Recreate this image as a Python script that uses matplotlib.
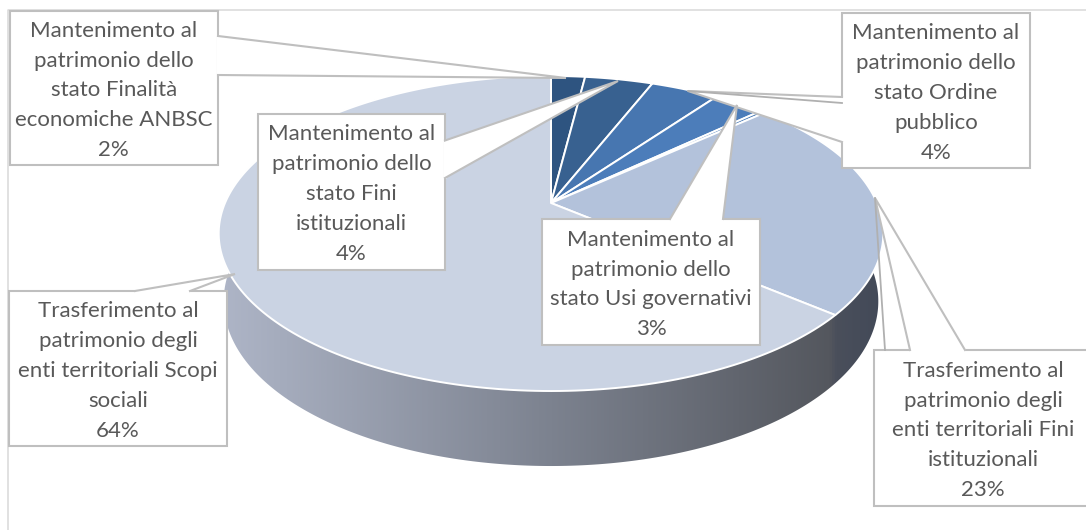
import numpy as np
import matplotlib
matplotlib.use("Agg")
import matplotlib.pyplot as plt
from matplotlib.colors import LinearSegmentedColormap
from matplotlib.patches import Polygon, Rectangle

plt.rcParams['font.family'] = ['Lato', 'DejaVu Sans']

# slice shares, clockwise from 12 o'clock
shares = [2, 4, 4, 3, 0.3, 23, 64]
slice_colors = ['#2E5480', '#386190', '#4776B0', '#4C7DBA', '#4A7AB5', '#B3C2DB', '#CAD3E3']

labels = [
    "Mantenimento al\npatrimonio dello\nstato Finalità\neconomiche ANBSC\n2%",
    "Mantenimento al\npatrimonio dello\nstato Fini\nistituzionali\n4%",
    "Mantenimento al\npatrimonio dello\nstato Ordine\npubblico\n4%",
    "Mantenimento al\npatrimonio dello\nstato Usi governativi\n3%",
    "Trasferimento al\npatrimonio degli\nenti territoriali Fini\nistituzionali\n23%",
    "Trasferimento al\npatrimonio degli\nenti territoriali Scopi\nsociali\n64%",
]

# label boxes: left, top, right, bottom in pixels
boxes = [
    (9.5, 11, 218, 165),
    (258, 114, 445, 269.5),
    (842, 13, 1029.5, 168),
    (542, 219, 760, 345),
    (874, 350, 1090, 506),
    (9, 290.5, 227, 446),
]

# callout wedges: start on box edge, tip, end on box edge
callouts = [
    [(218, 36), (566, 78), (218, 75)],
    [(445, 140.5), (618, 81), (445, 178)],
    [(842, 97), (688, 91), (842, 142)],
    [(670, 219), (737, 105), (723, 219)],
    [(910, 350), (875, 198), (965, 350)],
    [(135, 291), (235, 274), (190, 291)],
]
extra_leaders = [
    [(842, 103), (688, 91)],
    [(885, 350), (875, 198)],
]

# pie projection
cx, cy = 551, 203
a, b, k = 326, 151.6, 0.1937
grey = '#BFBFBF'


def project(theta):
    u = np.sin(theta)
    v = -np.cos(theta)
    w = 1 - k * v
    return cx + a * u / w, cy + b * v / w


def project_bottom(theta):
    x, y = project(theta)
    v = -np.cos(theta)
    return cx + (x - cx) * 0.985, y + 66 + 9 * v


fig = plt.figure(figsize=(10.86, 5.30), dpi=100)
ax = fig.add_axes([0, 0, 1, 1])
ax.set_xlim(0, 1086)
ax.set_ylim(530, 0)
ax.axis('off')

# chart frame
ax.plot([8, 8, 1086], [530, 10, 10], color='#D9D9D9', lw=1.1, zorder=1)

edges = np.cumsum([0] + shares) / sum(shares) * 2 * np.pi
split = edges[5]

# side wall, shaded left to right
side_map = LinearSegmentedColormap.from_list(
    'side', [(0, '#AEB5C7'), (0.5, '#7C828F'), (0.92, '#54575E'), (0.93, '#4A4F5B'), (1, '#424958')])
t = np.linspace(2 * np.pi * 0.2, 2 * np.pi * 0.83, 400)
tx, ty = project(t)
bx, by = project_bottom(t)
outline = np.column_stack([np.r_[tx, bx[::-1]], np.r_[ty, by[::-1]]])
wall = Polygon(outline, closed=True, fc='none', ec='none')
ax.add_patch(wall)
shade = np.linspace(0, 1, 512).reshape(1, -1)
im = ax.imshow(shade, cmap=side_map, extent=(220, 884, 480, 200), aspect='auto', zorder=2)
im.set_clip_path(wall)
ax.set_xlim(0, 1086)
ax.set_ylim(530, 0)

# seam between the two visible wall pieces
sx, sy = project(split)
bx, by = project_bottom(split)
ax.plot([sx, bx], [sy, by], color='#C8CBD0', lw=1.6, zorder=3)

# top surface
for i, share in enumerate(shares):
    t = np.linspace(edges[i], edges[i + 1], 200)
    tx, ty = project(t)
    pts = np.column_stack([np.r_[cx, tx], np.r_[cy, ty]])
    ax.add_patch(Polygon(pts, closed=True, fc=slice_colors[i], ec='white', lw=1.4,
                         joinstyle='round', zorder=4))

# label boxes with their callouts
for box, wedge, label in zip(boxes, callouts, labels):
    left, top, right, bottom = box
    ax.add_patch(Rectangle((left, top), right - left, bottom - top, fc='white', ec=grey,
                           lw=1.5, zorder=5))
    ax.add_patch(Polygon(wedge, closed=True, fc='white', ec='none', zorder=6))
    ax.plot(*zip(*wedge), color=grey, lw=1.5, solid_joinstyle='miter', zorder=7)
    # open the box edge where the wedge joins it
    ax.plot([wedge[0][0], wedge[2][0]], [wedge[0][1], wedge[2][1]], color='white', lw=2.2,
            solid_capstyle='butt', zorder=6.5)
    ax.text((left + min(right, 1086)) / 2 + (3 if right > 1086 else 0), (top + bottom) / 2 + 2.5,
            label, ha='center', va='center', fontsize=16, color='#595959',
            linespacing=1.62, zorder=8)

for line in extra_leaders:
    ax.plot(*zip(*line), color='#B0B0B0', lw=1.3, zorder=7)

fig.savefig('out.png', dpi=100)
